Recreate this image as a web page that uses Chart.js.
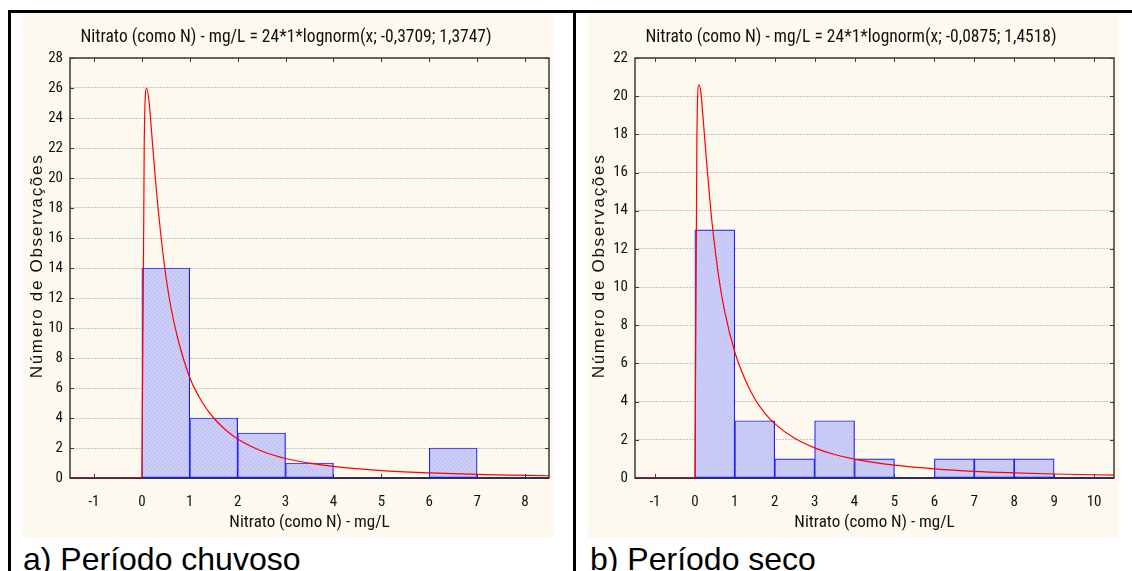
<!DOCTYPE html>
<html>
<head>
<meta charset="utf-8">
<script src="https://cdn.jsdelivr.net/npm/chart.js@4.4.1/dist/chart.umd.min.js"></script>
<style>
  html, body { margin: 0; padding: 0; background: #fff; }
  body { width: 1132px; height: 571px; position: relative; overflow: hidden;
         font-family: 'Liberation Sans', Arial, sans-serif; }
  .rule { position: absolute; background: #000; }
  .panel { position: absolute; top: 13px; height: 525px; background: #fdf9ee; }
  .panel canvas { display: block; }
  .caption { position: absolute; top: 543px; font-size: 32px; line-height: 32px;
             color: #000; white-space: nowrap; }
</style>
</head>
<body>
<div class="rule" style="left:8px; top:10px; width:1124px; height:3px"></div>
<div class="rule" style="left:8px; top:10px; width:3px; height:561px"></div>
<div class="rule" style="left:573px; top:10px; width:3px; height:561px"></div>

<div class="panel" style="left:23px; width:530px"><canvas id="chartA" width="530" height="525"></canvas></div>
<div class="panel" style="left:588px; width:531px"><canvas id="chartB" width="531" height="525"></canvas></div>

<div class="caption" style="left:23px">a) Período chuvoso</div>
<div class="caption" style="left:590px">b) Período seco</div>

<script>
// ── DATA ──────────────────────────────────────────────────────
// a) rainy season: histogram bins (start of 1 mg/L bin) and counts
const binStartsA = [-1, 0, 1, 2, 3, 4, 5, 6, 7];
const countsA    = [0, 14, 4, 3, 1, 0, 0, 2, 0];
// fitted lognormal curve, expected count per bin
const curveXA = [-1.5, 0, 0.05, 0.1, 0.15, 0.2, 0.3, 0.4, 0.5, 0.6, 0.75, 1, 1.25, 1.5, 1.75, 2, 2.5, 3, 3.5, 4, 5, 6, 7, 8, 8.5];
const curveYA = [0, 0, 22.5, 26.0, 25.1, 23.2, 19.3, 16.1, 13.5, 11.5, 9.3, 6.7, 5.1, 4.0, 3.2, 2.6, 1.8, 1.3, 0.99, 0.77, 0.49, 0.34, 0.24, 0.18, 0.15];
const xTicksA = [-1, 0, 1, 2, 3, 4, 5, 6, 7, 8];
const yTicksA = [0, 2, 4, 6, 8, 10, 12, 14, 16, 18, 20, 22, 24, 26, 28];
const titleA  = 'Nitrato (como N) - mg/L = 24*1*lognorm(x; -0,3709; 1,3747)';

// b) dry season
const binStartsB = [-1, 0, 1, 2, 3, 4, 5, 6, 7, 8, 9];
const countsB    = [0, 13, 3, 1, 3, 1, 0, 1, 1, 1, 0];
const curveXB = [-1.5, 0, 0.05, 0.1, 0.15, 0.2, 0.3, 0.4, 0.5, 0.6, 0.75, 1, 1.25, 1.5, 1.75, 2, 2.5, 3, 3.5, 4, 5, 6, 7, 8, 9, 10, 10.5];
const curveYB = [0, 0, 17.7, 20.6, 20.2, 19.0, 16.4, 14.0, 12.1, 10.5, 8.7, 6.6, 5.2, 4.15, 3.4, 2.85, 2.08, 1.58, 1.23, 0.99, 0.67, 0.48, 0.35, 0.27, 0.21, 0.17, 0.15];
const xTicksB = [-1, 0, 1, 2, 3, 4, 5, 6, 7, 8, 9, 10];
const yTicksB = [0, 2, 4, 6, 8, 10, 12, 14, 16, 18, 20, 22];
const titleB  = 'Nitrato (como N) - mg/L = 24*1*lognorm(x; -0,0875; 1,4518)';

const xTitle = 'Nitrato (como N) - mg/L';
const yTitle = 'Número de Observações';

// ── STYLE ─────────────────────────────────────────────────────
const NARROW = "'Roboto Condensed', 'DejaVu Sans Condensed', sans-serif";
const INK = '#111';

// light blue fill with a fine diagonal hatch
function hatch(ctx) {
  const c = document.createElement('canvas');
  c.width = 4; c.height = 4;
  const g = c.getContext('2d');
  g.fillStyle = '#cdcdfa';
  g.fillRect(0, 0, 4, 4);
  g.fillStyle = '#bcbef2';
  for (let i = 0; i < 4; i++) g.fillRect(i, 3 - i, 1, 1);
  return ctx.createPattern(c, 'repeat');
}

// plot frame with inward tick marks on all four sides
const frame = {
  id: 'frame',
  beforeDatasetsDraw(chart) {
    const { ctx, chartArea: a, scales: { x, y } } = chart;
    ctx.save();
    ctx.strokeStyle = '#3a3a3a';
    ctx.lineWidth = 1.5;
    ctx.strokeRect(a.left, a.top, a.right - a.left, a.bottom - a.top);
    ctx.lineWidth = 1;
    ctx.beginPath();
    x.ticks.forEach(t => {
      const px = Math.round(x.getPixelForValue(t.value)) + 0.5;
      ctx.moveTo(px, a.bottom); ctx.lineTo(px, a.bottom - 4);
      ctx.moveTo(px, a.top);    ctx.lineTo(px, a.top + 4);
    });
    y.ticks.forEach(t => {
      const py = Math.round(y.getPixelForValue(t.value)) + 0.5;
      ctx.moveTo(a.left, py);  ctx.lineTo(a.left + 4, py);
      ctx.moveTo(a.right, py); ctx.lineTo(a.right - 4, py);
    });
    ctx.stroke();
    ctx.strokeStyle = '#20204a';
    ctx.lineWidth = 1.5;
    ctx.beginPath();
    ctx.moveTo(a.left, a.bottom); ctx.lineTo(a.right, a.bottom);
    ctx.stroke();
    ctx.restore();
  }
};

// letter-spaced vertical axis title
const sideTitle = {
  id: 'sideTitle',
  afterDraw(chart, args, opts) {
    const { ctx, chartArea: a } = chart;
    ctx.save();
    ctx.translate(opts.x, (a.top + a.bottom) / 2 - 2);
    ctx.rotate(-Math.PI / 2);
    ctx.font = "17px 'Liberation Sans', Arial, sans-serif";
    ctx.letterSpacing = '1.7px';
    ctx.fillStyle = INK;
    ctx.textAlign = 'center';
    ctx.textBaseline = 'middle';
    ctx.fillText(opts.text, 0, 0);
    ctx.restore();
  }
};

function drawHistogram(canvasId, o) {
  const ctx = document.getElementById(canvasId).getContext('2d');
  return new Chart(ctx, {
    type: 'bar',
    data: {
      datasets: [
        {
          type: 'line',
          data: o.curveX.map((x, i) => ({ x, y: o.curveY[i] })),
          borderColor: '#ff0000', borderWidth: 1.2,
          pointRadius: 0, cubicInterpolationMode: 'monotone',
          order: 0
        },
        {
          data: o.binStarts.map((b, i) => ({ x: b + 0.5, y: o.counts[i] })),
          backgroundColor: hatch(ctx),
          borderColor: '#2020f0', borderWidth: 1.2, borderSkipped: false,
          barPercentage: 1, categoryPercentage: 1,
          order: 1
        }
      ]
    },
    options: {
      responsive: false,
      animation: false,
      devicePixelRatio: 1,
      layout: { padding: { left: 0, right: o.padRight, top: 0, bottom: 0 } },
      plugins: {
        legend: { display: false },
        tooltip: { enabled: false },
        title: {
          display: true, text: o.title, color: INK,
          font: { family: NARROW, size: 17.5, weight: 'normal' },
          padding: { top: 14, bottom: 10 }
        },
        sideTitle: { text: yTitle, x: o.yTitleX }
      },
      scales: {
        x: {
          type: 'linear', min: o.xMin, max: o.xMax, offset: false,
          afterBuildTicks: s => { s.ticks = o.xTicks.map(v => ({ value: v })); },
          afterFit: s => { s.height = 60; },
          grid: { display: false, offset: false },
          border: { display: false },
          ticks: { color: INK, font: { family: NARROW, size: 15 }, padding: 7, maxRotation: 0, autoSkip: false },
          title: {
            display: true, text: xTitle, color: INK,
            font: { family: NARROW, size: 17 }, padding: { top: 0, bottom: 5 }
          }
        },
        y: {
          min: 0, max: o.yMax,
          afterBuildTicks: s => { s.ticks = o.yTicks.map(v => ({ value: v })); },
          afterFit: s => { s.width = 47; },
          grid: { color: '#c6c6c6', lineWidth: 1, drawTicks: false },
          border: { display: false, dash: [2, 1] },
          ticks: { color: INK, font: { family: NARROW, size: 15 }, padding: 7, autoSkip: false }
        }
      }
    },
    plugins: [frame, sideTitle]
  });
}

drawHistogram('chartA', {
  binStarts: binStartsA, counts: countsA, curveX: curveXA, curveY: curveYA,
  xTicks: xTicksA, yTicks: yTicksA, title: titleA,
  xMin: -1.5, xMax: 8.5, yMax: 28, padRight: 4, yTitleX: 14
});

drawHistogram('chartB', {
  binStarts: binStartsB, counts: countsB, curveX: curveXB, curveY: curveYB,
  xTicks: xTicksB, yTicks: yTicksB, title: titleB,
  xMin: -1.5, xMax: 10.5, yMax: 22, padRight: 5, yTitleX: 11
});
</script>
</body>
</html>
